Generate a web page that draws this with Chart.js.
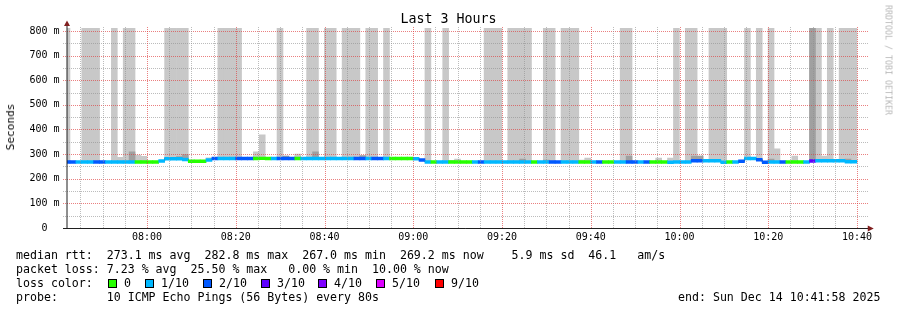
<!DOCTYPE html>
<html>
<head>
<meta charset="utf-8">
<script src="https://cdn.jsdelivr.net/npm/chart.js@4/dist/chart.umd.min.js"></script>
<style>
html,body{margin:0;padding:0;background:#fff;}
#wrap{position:relative;width:897px;height:310px;overflow:hidden;font-family:"DejaVu Sans Mono",monospace;color:#000;background:#fff;}
#c{position:absolute;left:0;top:0;}
.t{position:absolute;white-space:pre;line-height:14px;font-size:11.6px;}
.box{position:absolute;width:7px;height:7px;border:1px solid #000;top:279px;}
#title{position:absolute;left:0;width:897px;text-align:center;top:11.3px;font-size:13.3px;line-height:16px;}
#ylab{position:absolute;left:11px;top:126.5px;font-size:11.1px;line-height:12px;white-space:pre;transform:translate(-50%,-50%) rotate(-90deg);}
#wm{position:absolute;left:888px;top:60px;font-size:8.3px;line-height:9px;white-space:pre;color:#b8b8b8;transform:translate(-50%,-50%) rotate(90deg);}
</style>
</head>
<body>
<div id="wrap">
<canvas id="c" width="897" height="310"></canvas>
<div id="title">Last 3 Hours</div>
<div id="ylab">Seconds</div>
<div id="wm">RRDTOOL / TOBI OETIKER</div>
<div class="t" style="left:16px;top:248.2px">median rtt:  273.1 ms avg  282.8 ms max  267.0 ms min  269.2 ms now    5.9 ms sd  46.1   am/s</div>
<div class="t" style="left:16px;top:261.5px">packet loss: 7.23 % avg  25.50 % max   0.00 % min  10.00 % now</div>
<div class="t" style="left:16px;top:275.9px">loss color:</div>
<div id="lossLegend"></div>
<div class="t" style="left:16px;top:289.9px">probe:       10 ICMP Echo Pings (56 Bytes) every 80s</div>
<div class="t" style="left:678px;top:289.9px">end: Sun Dec 14 10:41:58 2025</div>
</div>
<script>
// ---- time base (seconds of day) ----
const START = 27718;          // 07:41:58
const END = START + 10800;    // 10:41:58
const STEP = 80;              // one probe round every 80 s

// ---- tick labels ----
const xTickLabels = ['08:00','08:20','08:40','09:00','09:20','09:40','10:00','10:20','10:40'];
const yTickLabels = ['0','100 m','200 m','300 m','400 m','500 m','600 m','700 m','800 m'];

// ---- loss legend ----
const lossNames  = ['0','1/10','2/10','3/10','4/10','5/10','9/10'];
const lossColors = ['#26ff00','#00b8ff','#0059ff','#5e00ff','#7e00ff','#dd00ff','#ff0000'];

// ---- median RTT per probe round (ms) ----
const median = [
 268,268,268,268,268,268,268,268,268,268,268,268,268,268,268,268,
 272,281,281,281,278,271,271,271,276,
 282,282,282,282,282,282,282,282,282.8,282,282,282,282,282,282,282,282,
 282,282,282,282,282,282,282,282,282,282,282,282,282,282,282,282,282,
 281,276,
 268,268,268,268,268,268,268,268,268,268,268,268,268,268,268,268,268,268,268,268,268,
 268,268,268,268,268,268,268,268,268,268,268,268,268,268,268,268,268,268,268,268,267,
 268,268,268,
 273,273,273,273,273,
 267,268,268,271,282,282,277,267,
 268,268,268,268,268,268,268,
 272,273,273,273,273,273,269.2,269.2
];

// ---- lost pings (out of 10) per probe round ----
const loss = [
 2,2,1,1,1,2,2,1,1,1,1,1,0,0,0,0,1,1,1,1,1,0,0,0,1,2,1,1,1,2,2,2,0,0,0,1,2,2,2,0,
 1,1,1,1,1,1,1,1,1,2,2,1,2,2,1,0,0,0,0,1,2,1,0,1,1,0,0,0,0,1,2,
 1,1,1,1,1,1,1,1,0,1,1,2,2,1,1,1,0,0,1,2,0,0,1,1,2,2,1,2,0,0,0,
 1,1,1,1,2,2,1,1,1,1,0,1,2,1,1,2,2,1,1,2,0,0,0,1,3,1,1,1,1,1,1,1
];

// ---- smoke: highest ping per round (ms), null = no visible smoke ----
const smokeHi = [
 900,null,null,900,900,900,null,null,900,287,900,900,296,291,null,null,null,900,900,900,
 900,null,null,null,285,null,900,900,900,900,null,null,309,378,null,null,900,292,null,300,
 null,900,900,null,900,900,null,900,900,900,294,900,900,null,900,null,null,null,null,null,
 null,900,null,null,900,275,280,null,null,null,null,900,900,900,null,900,900,900,900,null,
 null,900,900,null,900,900,900,276,284,null,null,null,null,null,900,900,null,null,null,null,
 284,null,284,900,null,900,900,292,null,900,900,900,null,null,null,900,null,900,null,900,
 321,null,null,292,null,null,900,900,292,900,null,900,900,900
];

// ---- dense smoke (several pings) upper edge (ms), null = none ----
const smokeDenseHi = [
 null,null,null,null,null,null,null,null,null,null,null,309,null,null,null,null,null,284,null,290,
 298,null,null,null,null,null,null,null,null,null,null,null,null,null,null,null,null,292,null,null,
 null,null,309,null,null,null,null,null,null,null,294,null,null,null,null,null,null,null,null,null,
 null,null,null,null,null,null,null,null,null,null,null,null,null,null,null,null,null,280,null,null,
 null,276,null,null,null,null,null,null,null,null,null,null,null,null,null,292,null,null,null,null,
 null,null,null,null,null,null,292,292,null,null,null,null,null,null,null,null,null,null,null,280,
 null,null,null,null,null,null,900,null,null,null,null,null,280,null
];

// ---- build datasets ----
const times = median.map((_, k) => START + STEP * k);
const BAND = 5.5; // half thickness of the coloured median band (ms)

const smokeData = [], denseData = [], medLine = [], medBand = [], bandColors = [];
times.forEach((t, k) => {
  if (smokeHi[k] != null) smokeData.push({x: t, y: [median[k], smokeHi[k]]});
  if (smokeDenseHi[k] != null) denseData.push({x: t, y: [median[k], smokeDenseHi[k]]});
  medLine.push({x: t, y: median[k]});
  medBand.push({x: t, y: [median[k] - BAND, median[k] + BAND]});
  bandColors.push(lossColors[loss[k]]);
});

// loss colour legend (HTML)
const legendBoxX = [108, 145, 203, 261, 318, 376, 435];
const ll = document.getElementById('lossLegend');
lossNames.forEach((n, i) => {
  const b = document.createElement('div');
  b.className = 'box'; b.style.left = legendBoxX[i] + 'px'; b.style.background = lossColors[i];
  ll.appendChild(b);
  const s = document.createElement('div');
  s.className = 't'; s.style.left = (legendBoxX[i] + 16) + 'px'; s.style.top = '275.9px'; s.textContent = n;
  ll.appendChild(s);
});

const MINOR = 'rgba(143,143,143,0.6)', MAJOR = 'rgba(222,60,60,0.65)';

// dotted rrdtool-style grid drawn over the data
const dotGrid = {
  id: 'dotGrid',
  afterDatasetsDraw(chart) {
    const {ctx, chartArea: a, scales: {x, y}} = chart;
    const L = Math.round(a.left), R = Math.round(a.right), T = Math.round(a.top), B = Math.round(a.bottom);
    ctx.save();
    for (const tk of y.ticks) {
      const py = Math.round(y.getPixelForValue(tk.value));
      if (py >= B) continue;
      ctx.fillStyle = tk.value % 100 === 0 ? MAJOR : MINOR;
      for (let px = L - 4; px < R + 2; px += 2) ctx.fillRect(px, py, 1, 1);
    }
    for (const tk of x.ticks) {
      const px = Math.round(x.getPixelForValue(tk.value));
      ctx.fillStyle = (tk.value - 28800) % 1200 === 0 ? MAJOR : MINOR;
      for (let py = B - 1; py >= T - 2; py -= 2) ctx.fillRect(px, py, 1, 1);
    }
    ctx.restore();
  }
};

const axisArrows = {
  id: 'axisArrows',
  afterDraw(chart) {
    const {ctx, chartArea: a} = chart;
    ctx.save();
    ctx.strokeStyle = '#1f1f1f';
    ctx.lineWidth = 1;
    ctx.beginPath(); ctx.moveTo(a.left - 4, a.bottom + 0.5); ctx.lineTo(a.right + 3, a.bottom + 0.5); ctx.stroke();
    ctx.beginPath(); ctx.moveTo(a.left, a.bottom + 1); ctx.lineTo(a.left, a.top - 3); ctx.stroke();
    ctx.fillStyle = '#801f1f';
    ctx.beginPath(); ctx.moveTo(a.left - 3, a.top - 2); ctx.lineTo(a.left + 3, a.top - 2); ctx.lineTo(a.left, a.top - 7.5); ctx.closePath(); ctx.fill();
    ctx.beginPath(); ctx.moveTo(a.right + 2, a.bottom + 0.5 - 3); ctx.lineTo(a.right + 2, a.bottom + 0.5 + 3); ctx.lineTo(a.right + 8, a.bottom + 0.5); ctx.closePath(); ctx.fill();
    ctx.restore();
  }
};

Chart.defaults.font.family = "'DejaVu Sans Mono', monospace";
Chart.defaults.color = '#000';

new Chart(document.getElementById('c'), {
  data: {
    datasets: [
      {type: 'bar', data: medBand, backgroundColor: bandColors, borderWidth: 0, grouped: false, order: 0,
       barPercentage: 1, categoryPercentage: 1},
      {type: 'line', data: medLine, stepped: 'middle', borderColor: '#111', borderWidth: 1, pointRadius: 0, order: 1},
      {type: 'bar', data: denseData, backgroundColor: '#a0a0a0', borderWidth: 0, grouped: false, order: 2,
       barPercentage: 1, categoryPercentage: 1},
      {type: 'bar', data: smokeData, backgroundColor: '#c8c8c8', borderWidth: 0, grouped: false, order: 3,
       barPercentage: 1, categoryPercentage: 1}
    ]
  },
  options: {
    responsive: false,
    devicePixelRatio: 1,
    animation: false,
    layout: {padding: {left: 0, top: 28, right: 31.25, bottom: 0}},
    plugins: {legend: {display: false}, tooltip: {enabled: false}, title: {display: false}},
    scales: {
      x: {
        type: 'linear', min: START, max: END, offset: false,
        afterFit(s) { s.height = 82; },
        afterBuildTicks(s) {
          const tk = [];
          for (let v = Math.ceil(START / 300) * 300; v <= END; v += 300) tk.push({value: v});
          s.ticks = tk;
        },
        ticks: {
          autoSkip: false, maxRotation: 0, padding: 3.5, color: '#000',
          font: {size: 10},
          callback: v => ((v - 28800) % 1200 === 0 ? xTickLabels[(v - 28800) / 1200] : '')
        },
        grid: {display: false, drawTicks: false, offset: false},
        border: {display: false}
      },
      y: {
        type: 'linear', min: 0, max: 812,
        afterFit(s) { s.width = 67; },
        afterBuildTicks(s) {
          const tk = [];
          for (let v = 0; v <= 800; v += 50) tk.push({value: v});
          s.ticks = tk;
        },
        ticks: {
          autoSkip: false, padding: 3.5, crossAlign: 'center', color: '#000',
          font: {size: 10},
          callback: v => (v % 100 === 0 ? yTickLabels[v / 100] : '')
        },
        grid: {display: false, drawTicks: true, tickLength: 4},
        border: {display: false}
      }
    }
  },
  plugins: [dotGrid, axisArrows]
});
</script>
</body>
</html>
